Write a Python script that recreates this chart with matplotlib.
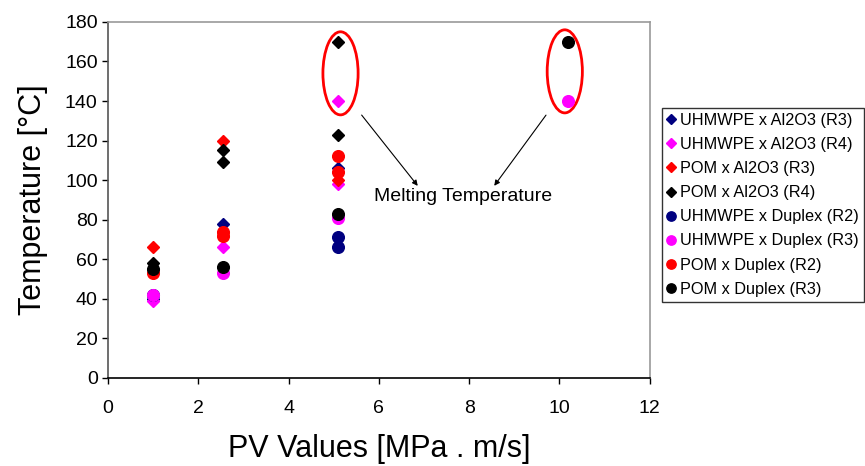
import matplotlib
matplotlib.use("Agg")
import matplotlib.pyplot as plt
from matplotlib.patches import Ellipse

plt.rcParams['font.family'] = ['Liberation Sans', 'DejaVu Sans']

# Data
labels = ["UHMWPE x Al2O3 (R3)", "UHMWPE x Al2O3 (R4)", "POM x Al2O3 (R3)", "POM x Al2O3 (R4)",
          "UHMWPE x Duplex (R2)", "UHMWPE x Duplex (R3)", "POM x Duplex (R2)", "POM x Duplex (R3)"]
uhm_al_r3_x = [1, 2.55, 5.1]
uhm_al_r3_y = [40, 78, 106]
uhm_al_r4_x = [1, 2.55, 5.1, 5.1]
uhm_al_r4_y = [39, 66, 98, 140]
pom_al_r3_x = [1, 2.55, 5.1]
pom_al_r3_y = [66, 120, 100]
pom_al_r4_x = [1, 2.55, 2.55, 5.1, 5.1]
pom_al_r4_y = [58, 115, 109, 123, 170]
uhm_du_r2_x = [1, 5.1, 5.1]
uhm_du_r2_y = [42, 71, 66]
uhm_du_r3_x = [1, 2.55, 5.1, 10.2]
uhm_du_r3_y = [42, 53, 81, 140]
pom_du_r2_x = [1, 2.55, 2.55, 5.1, 5.1]
pom_du_r2_y = [53, 74, 72, 112, 104]
pom_du_r3_x = [1, 2.55, 5.1, 10.2]
pom_du_r3_y = [55, 56, 83, 170]

series = [
    (uhm_al_r3_x, uhm_al_r3_y, 'D', '#000080'),
    (uhm_al_r4_x, uhm_al_r4_y, 'D', '#FF00FF'),
    (pom_al_r3_x, pom_al_r3_y, 'D', '#FF0000'),
    (pom_al_r4_x, pom_al_r4_y, 'D', '#000000'),
    (uhm_du_r2_x, uhm_du_r2_y, 'o', '#000080'),
    (uhm_du_r3_x, uhm_du_r3_y, 'o', '#FF00FF'),
    (pom_du_r2_x, pom_du_r2_y, 'o', '#FF0000'),
    (pom_du_r3_x, pom_du_r3_y, 'o', '#000000'),
]

fig = plt.figure(figsize=(8.65, 4.66), dpi=100)
ax = fig.add_axes([0.125, 0.189, 0.626, 0.764])

handles = []
for (xs, ys, m, c), lab in zip(series, labels):
    ms = 6.4 if m == 'D' else 8.4
    h, = ax.plot(xs, ys, linestyle='none', marker=m, markersize=ms,
                 markerfacecolor=c, markeredgecolor=c, label=lab)
    handles.append(h)

ax.set_xlim(0, 12)
ax.set_ylim(0, 180)
ax.set_xticks(range(0, 13, 2))
ax.set_yticks(range(0, 181, 20))
ax.tick_params(direction='out', labelsize=14, length=4, width=1)
ax.tick_params(axis='x', pad=12)
ax.spines['left'].set_color('#555555')
ax.spines['bottom'].set_color('#000000')
ax.spines['top'].set_color('#999999')
ax.spines['right'].set_color('#999999')
for s in ax.spines.values():
    s.set_linewidth(1.2)

ax.set_xlabel("PV Values [MPa . m/s]", fontsize=22, labelpad=12)
ax.set_ylabel("Temperature [°C]", fontsize=22, labelpad=12)

# Ellipses
ax.add_patch(Ellipse((5.15, 154), 0.78, 42, fill=False, edgecolor='#FF0000', linewidth=2))
ax.add_patch(Ellipse((10.12, 155), 0.78, 42, fill=False, edgecolor='#FF0000', linewidth=2))

# Arrows and annotation
ax.annotate("", xy=(6.9, 96), xytext=(5.58, 134),
            arrowprops=dict(arrowstyle='-|>', color='black', lw=0.8, mutation_scale=8))
ax.annotate("", xy=(8.52, 96), xytext=(9.74, 134),
            arrowprops=dict(arrowstyle='-|>', color='black', lw=0.8, mutation_scale=8))
ax.text(7.86, 91.5, "Melting Temperature", fontsize=14, ha='center', va='center')

leg = fig.legend(handles=handles, loc='upper left', bbox_to_anchor=(0.765, 0.768),
                 fontsize=11.7, frameon=True, fancybox=False, edgecolor='black',
                 handlelength=0.5, handletextpad=0.35, labelspacing=0.56,
                 borderpad=0.3, borderaxespad=0, markerscale=0.8)
leg.get_frame().set_linewidth(1.0)

fig.savefig("out.png", dpi=100)
